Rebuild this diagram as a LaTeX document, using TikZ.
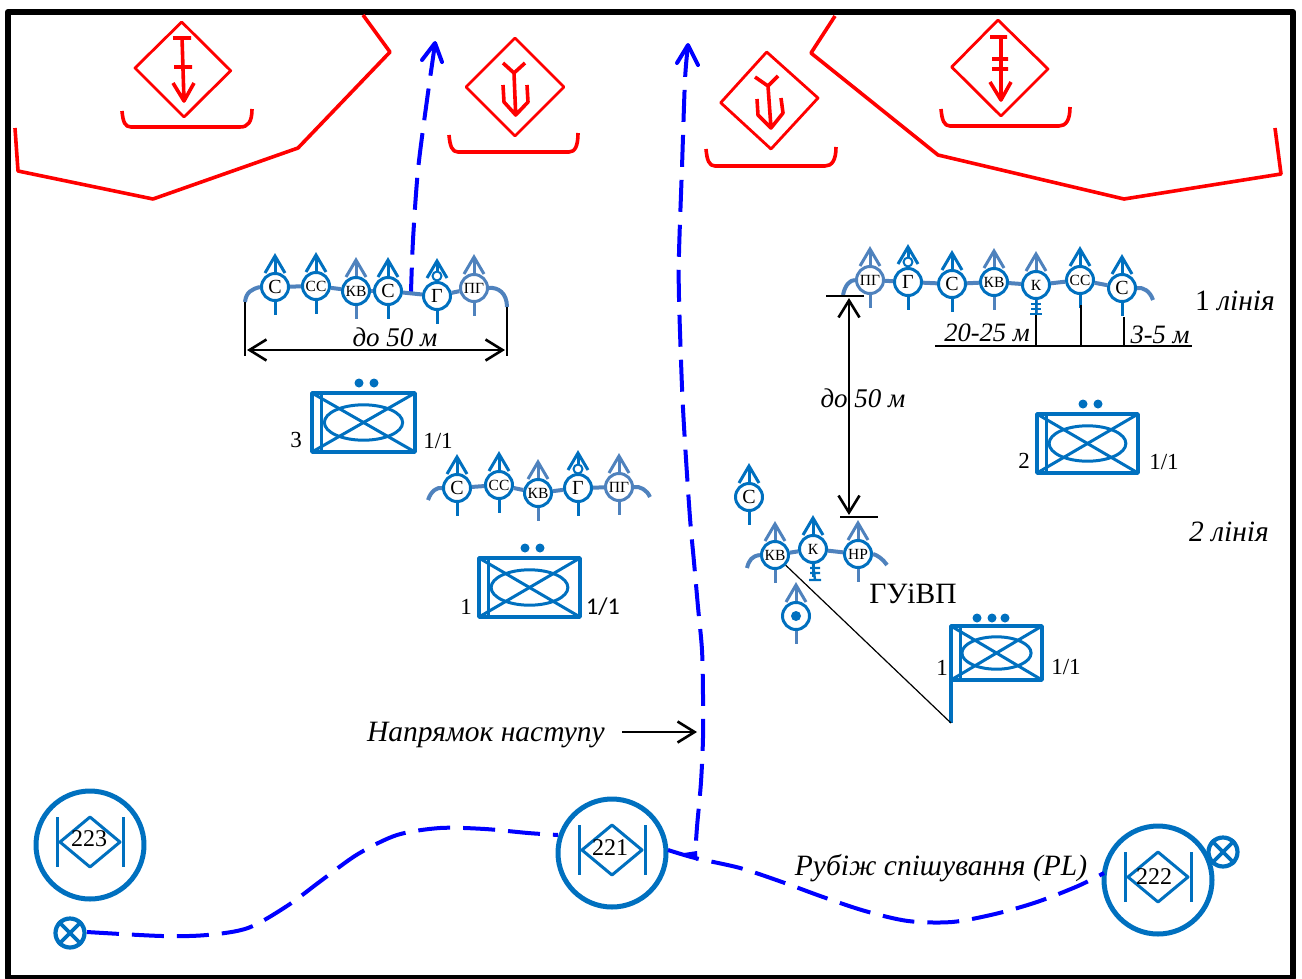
\documentclass[tikz,border=0pt]{standalone}
\usepackage{fontspec}
\setmainfont{Liberation Serif}
\newfontfamily\calfont{Carlito}
\usetikzlibrary{arrows.meta}
\definecolor{qqqqff}{rgb}{0,0,1}
\definecolor{ffqqqq}{rgb}{1,0,0}
\definecolor{qqfgcc}{rgb}{0,0.44,0.75}
\definecolor{ffhhbb}{rgb}{0.31,0.51,0.74}
\tikzset{
  ring/.style={circle,draw=#1,fill=white,line width=3pt,inner sep=0pt,minimum size=27pt,font=\fontsize{20}{20}\selectfont},
  tail/.style={line width=3pt,color=#1},
  chain/.style={line width=4pt,color=ffhhbb},
  veh/.style={draw=qqfgcc,line width=3.5pt,inner sep=0pt,outer sep=0pt},
  vehin/.style={draw=qqfgcc,line width=3pt},
  ptdot/.style={circle,fill=qqfgcc,inner sep=0pt,minimum size=9pt},
  rd/.style={color=ffqqqq,line width=2.8pt,line join=round},
  rdb/.style={color=ffqqqq,line width=3.6pt,line join=round},
  rt/.style={color=qqqqff,line width=4pt,dash pattern=on 32pt off 13pt},
  rhead/.style={color=qqqqff,line width=4pt,line cap=round},
  blk/.style={color=black,line width=1.2pt},
  dim/.style={color=black,line width=2.6pt,{Straight Barb[length=17pt,width=21pt,line width=2.6pt]}-{Straight Barb[length=17pt,width=21pt,line width=2.6pt]}},
  big/.style={circle,draw=qqfgcc,line width=5pt,inner sep=0pt,minimum size=108pt},
  xmark/.style={circle,draw=qqfgcc,line width=4.2pt,inner sep=0pt,minimum size=29pt},
  smallring/.style={circle,draw=qqfgcc,fill=white,line width=2pt,inner sep=0pt,minimum size=9pt},
  txt/.style={font=\fontsize{#1}{#1}\selectfont,inner sep=0pt},
  txt/.default=23
}
\newcommand{\sml}[1]{{\fontsize{15.5}{15.5}\selectfont #1}}
% soldier mark: [arm length] name, position, text, ring colour, arm colour
\newcommand{\soldier}[6][16]{
\node[ring=#5] (#2) at (#3) {#4};
\draw[tail=#6] (#2.north) -- ++(0,-#1) coordinate (#2t);
\draw[tail=#6,line join=miter] ([xshift=-10pt,yshift=-17pt]#2t) -- (#2t) -- ([xshift=10pt,yshift=-17pt]#2t);
\draw[tail=#6] (#2.south) -- ++(0,13);
}
% vehicle mark: name, centre, width, height
\newcommand{\vehicle}[4]{
\node[veh,minimum width=#3pt,minimum height=#4pt] (#1) at (#2) {};
\draw[vehin] (#1.north west) -- (#1.south east);
\draw[vehin] (#1.south west) -- (#1.north east);
\draw[vehin] ([xshift=9pt]#1.north west) -- ([xshift=9pt]#1.south west);
\draw[vehin] (#1.center) ellipse (0.38*#3 and 0.3*#4);
}
% battalion mark: name, centre
\newcommand{\batt}[2]{
\node[big] (#1) at (#2) {};
\draw[line width=3pt,color=qqfgcc] ([xshift=-33pt,yshift=3pt]#1.center) -- ++(0,-25) ([xshift=-33pt,yshift=3pt]#1.center) -- ++(0,25);
\draw[line width=3pt,color=qqfgcc] ([xshift=33pt,yshift=3pt]#1.center) -- ++(0,-25) ([xshift=33pt,yshift=3pt]#1.center) -- ++(0,25);
\draw[line width=3pt,color=qqfgcc] ([xshift=-30pt,yshift=3pt]#1.center) -- ++(30,-25) -- ++(30,25) -- ++(-30,25) -- cycle;
}
\begin{document}
\begin{tikzpicture}[line cap=butt,line join=round,x=1pt,y=-1pt]
\useasboundingbox (0,0) rectangle (1302,978);
\clip (0,0) rectangle (1302,978);
\draw[line width=6pt] (8,12) rectangle (1293,978);
% red zones
\draw[color=ffqqqq,line width=3.6pt] (15,128) -- (18,171) -- (153,199) -- (298,148) -- (390,52) -- (363,15);
\draw[color=ffqqqq,line width=3.6pt] (1275,128) -- (1281,174) -- (1124,199) -- (938,155) -- (811,53) -- (835,16);
\draw[rd] (181.7,22) -- (230.7,70.7) -- (184,117) -- (135,68) -- cycle;
\draw[rd] (515,38) -- (564,87) -- (515,136) -- (466,87) -- cycle;
\draw[rd] (766.7,52) -- (818,98) -- (771,149) -- (720.7,102.7) -- cycle;
\draw[rd] (998,20) -- (1048,69) -- (1001,116) -- (951.7,67) -- cycle;
\draw[rdb] (182,37) -- (184,101) (173,38) -- (191,38) (174,67) -- (192,67) (173,83) -- (184,101) -- (194,83);
\draw[rdb] (1001,37) -- (1001,100) (990,37) -- (1007,37) (992,59) -- (1008,59) (992,69) -- (1008,69) (990,82) -- (1001,100) -- (1011,82);
\draw[rdb] (503,63) -- (514,73) -- (525,63) (514,73) -- (515.7,115) (503,85) -- (504,102) -- (515.7,115) -- (528,102) -- (527,85);
\draw[rdb] (755,77) -- (768,86) -- (778,76) (768,86) -- (771,128) (757,99) -- (758,115) -- (771,128) -- (783,113) -- (781,98);
\draw[rdb] (122,111) .. controls (123,122) and (125,127) .. (131,127) -- (240,127) .. controls (248,127) and (252,122) .. (252,109);
\draw[rdb] (449,135) .. controls (450,146) and (452,152) .. (458,152) -- (569,152) .. controls (575,152) and (578,146) .. (578,133);
\draw[rdb] (706,149) .. controls (707,160) and (709,166) .. (715,166) -- (825,166) .. controls (832,166) and (836,160) .. (836,147);
\draw[rdb] (941,109) .. controls (942,120) and (944,126) .. (950,126) -- (1059,126) .. controls (1066,126) and (1070,120) .. (1070,107);
% blue routes
\draw[rt] plot[smooth] coordinates {(435,44) (427,100) (418,170) (413,240) (411,292)};
\draw[rhead] (422,60) -- (435,43) -- (442,62);
\draw[rt] plot[smooth] coordinates {(688,45) (685,80) (682,167) (679,253) (679,298) (682,387) (685,443) (690,518) (694,562) (698,607) (702,650) (703,695) (703,738) (701,782) (697,827) (695,857)};
\draw[rhead] (677,63) -- (688,45) -- (698,65);
% battalions
\batt{bnc}{90,845}
\batt{bna}{612,853}
\batt{bnb}{1158,880}
\node[txt=24] (tc) at (89,839) {223};
\node[txt=24] (ta) at (610,848) {221};
\node[txt=24] (tb) at (1154,877) {222};
\node[xmark] (xa) at (70,933) {};
\node[xmark] (xb) at (1223,852) {};
\draw[color=qqfgcc,line width=3.6pt] (xa.north west) -- (xa.south east) (xa.south west) -- (xa.north east);
\draw[color=qqfgcc,line width=3.6pt] (xb.north west) -- (xb.south east) (xb.south west) -- (xb.north east);
\draw[rt] plot[smooth] coordinates {(87,932) (162,936) (207,935) (248,928) (287,906) (322,880) (358,854) (397,835) (440,828) (485,829) (528,833) (558,835)};
\draw[rt] plot[smooth] coordinates {(668,850) (695,858) (740,868) (782,882) (823,897) (865,911) (908,921) (952,922) (995,914) (1037,902) (1078,886) (1104,873)};
\fill[color=qqqqff] (684,853) -- (697,851) -- (697,861) -- cycle;
% first squad
\soldier{sa}{275,287}{С}{qqfgcc}{qqfgcc}
\soldier{sb}{316,286}{\sml{СС}}{qqfgcc}{qqfgcc}
\soldier{sc}{356,291}{\sml{КВ}}{qqfgcc}{ffhhbb}
\soldier{sd}{388,291}{С}{qqfgcc}{qqfgcc}
\soldier[20]{se}{437,296}{Г}{qqfgcc}{qqfgcc}
\soldier{sf}{474,288}{\sml{ПГ}}{ffhhbb}{ffhhbb}
\node[smallring] (sg) at (437,276) {};
\draw[chain] (sa) -- (sb);
\draw[chain] (sb) -- (sc);
\draw[chain] (sc) -- (sd);
\draw[chain] (sd) -- (se);
\draw[chain] (se) -- (sf);
\coordinate (sl) at (245,302);
\coordinate (sr) at (507,307);
\draw[chain] (sl) .. controls (246,292) and (252,289) .. (sa.west);
\draw[chain] (sf.east) .. controls (498,287) and (507,293) .. (sr);
\draw[blk,line width=1.8pt] (sl) -- (245,356);
\draw[blk,line width=1.8pt] (sr) -- (507,356);
\coordinate (dl) at (247,350);
\coordinate (dr) at (505,350);
\draw[dim] (dl) -- (dr);
\node[txt=27] (da) at (395,337) {\itshape до 50 м};
% second squad
\soldier{ra}{457,488}{С}{qqfgcc}{qqfgcc}
\soldier{rb}{499,485}{\sml{СС}}{qqfgcc}{qqfgcc}
\soldier{rc}{538,493}{\sml{КВ}}{qqfgcc}{ffhhbb}
\soldier[20]{rd}{578,488}{Г}{qqfgcc}{qqfgcc}
\soldier{re}{619,487}{\sml{ПГ}}{ffhhbb}{ffhhbb}
\node[smallring] (rf) at (578,469) {};
\draw[chain] (ra) -- (rb);
\draw[chain] (rb) -- (rc);
\draw[chain] (rc) -- (rd);
\draw[chain] (rd) -- (re);
\coordinate (rl) at (428,500);
\coordinate (rr) at (650,497);
\draw[chain] (rl) .. controls (431,491) and (437,487) .. (ra.west);
\draw[chain] (re.east) .. controls (640,486) and (647,490) .. (rr);
% third squad
\soldier{ua}{870,280}{\sml{ПГ}}{ffhhbb}{ffhhbb}
\soldier[20]{ub}{908,282}{Г}{qqfgcc}{qqfgcc}
\soldier{uc}{952,284}{С}{qqfgcc}{qqfgcc}
\soldier{ud}{994,282}{\sml{КВ}}{qqfgcc}{ffhhbb}
\soldier{ue}{1036,285}{\sml{К}}{qqfgcc}{ffhhbb}
\soldier{uf}{1080,280}{\sml{СС}}{qqfgcc}{qqfgcc}
\soldier{ug}{1122,288}{С}{qqfgcc}{qqfgcc}
\node[smallring] (uh) at (908,262) {};
\draw[chain] (ua) -- (ub);
\draw[chain] (ub) -- (uc);
\draw[chain] (uc) -- (ud);
\draw[chain] (ud) -- (ue);
\draw[chain] (ue) -- (uf);
\draw[chain] (uf) -- (ug);
\coordinate (ul) at (843,295);
\coordinate (ur) at (1153,300);
\draw[chain] (ul) .. controls (845,285) and (850,280) .. (ua.west);
\draw[chain] (ug.east) .. controls (1143,287) and (1150,291) .. (ur);
\draw[line width=2.4pt,color=qqfgcc] (ue.south) -- (1036,315) (1031,304) -- (1041,304) (1031,309) -- (1041,309) (1030,314) -- (1042,314);
\coordinate (ba) at (935,346);
\coordinate (bb) at (1192,346);
\draw[blk] (ba) -- (bb);
\draw[blk] (1036,315) -- (1036,346);
\draw[blk] (1081,305) -- (1081,346);
\draw[blk] (1124,317) -- (1124,346);
\node[txt=26.5] (db) at (987,333) {\itshape 20-25 м};
\node[txt=26.5] (dc) at (1160,335) {\itshape 3-5 м};
\node[txt=29.5] (la) at (1235,301) {1 \itshape лінія};
\node[txt=29.5] (lb) at (1229,532) {\itshape 2 лінія};
% command group
\soldier{va}{749,497}{С}{qqfgcc}{qqfgcc}
\soldier{vb}{775,555}{\sml{КВ}}{qqfgcc}{ffhhbb}
\soldier{vc}{813,549}{\sml{К}}{qqfgcc}{qqfgcc}
\soldier{vd}{858,554}{\sml{НР}}{qqfgcc}{ffhhbb}
\soldier{ve}{796,616}{}{qqfgcc}{ffhhbb}
\node[circle,fill=qqfgcc,inner sep=0pt,minimum size=10pt] (vf) at (ve) {};
\draw[chain] (vb) -- (vc);
\draw[chain] (vc) -- (vd);
\coordinate (vl) at (747,568);
\coordinate (vr) at (887,565);
\draw[chain] (vl) .. controls (749,560) and (752,556) .. (vb.west);
\draw[chain] (vd.east) .. controls (877,555) and (883,559) .. (vr);
\draw[line width=2.4pt,color=qqfgcc] (vc.south) -- (815,580) (810,568) -- (820,568) (810,573) -- (820,573) (809,580) -- (821,580);
\node[txt=29.5] (vg) at (913,594) {ГУіВП};
\coordinate (ea) at (849,298);
\coordinate (eb) at (849,515);
\draw[dim] (ea) -- (eb);
\draw[line width=2pt] (826,296) -- (864,296);
\draw[line width=2pt] (840,517) -- (878,517);
\node[txt=27] (dd) at (863,398) {\itshape до 50 м};
% vehicles
\vehicle{bxc}{363.5,422.5}{103}{59}
\node[ptdot] (pca) at (359,383) {};
\node[ptdot] (pcb) at (374,383) {};
\node[txt] (nca) at (296,440) {3};
\node[txt] (ncb) at (438,441) {1/1};
\vehicle{bxa}{529.5,587.5}{101}{59}
\node[ptdot] (paa) at (525,548) {};
\node[ptdot] (pab) at (540,548) {};
\node[txt] (naa) at (466,607) {1};
\node[txt=24] (nab) at (603,607) {\calfont 1/1};
\vehicle{bxb}{1087.5,443.5}{101}{59}
\node[ptdot] (pba) at (1083,404) {};
\node[ptdot] (pbb) at (1098,404) {};
\node[txt] (nba) at (1024,461) {2};
\node[txt] (nbb) at (1164,462) {1/1};
\vehicle{bxd}{996.5,653}{91}{54}
\node[ptdot] (pda) at (977,618) {};
\node[ptdot] (pdb) at (992,618) {};
\node[ptdot] (pdc) at (1005,618) {};
\coordinate (pole) at (951,723);
\draw[line width=3.5pt,color=qqfgcc] (bxd.south west) -- (pole);
\draw[blk] (vb) -- (pole);
\node[txt] (nda) at (942,668) {1};
\node[txt] (ndb) at (1066,667) {1/1};
% captions
\node[txt=29.5] (cap) at (486,735) {\itshape Напрямок наступу};
\coordinate (ca) at (622,732);
\coordinate (cb) at (697,732);
\draw[color=black,line width=2.6pt,-{Straight Barb[length=17pt,width=21pt,line width=2.6pt]}] (ca) -- (cb);
\node[txt=29.5] (pl) at (941,868) {\itshape Рубіж спішування (PL)};
\end{tikzpicture}
\end{document}
